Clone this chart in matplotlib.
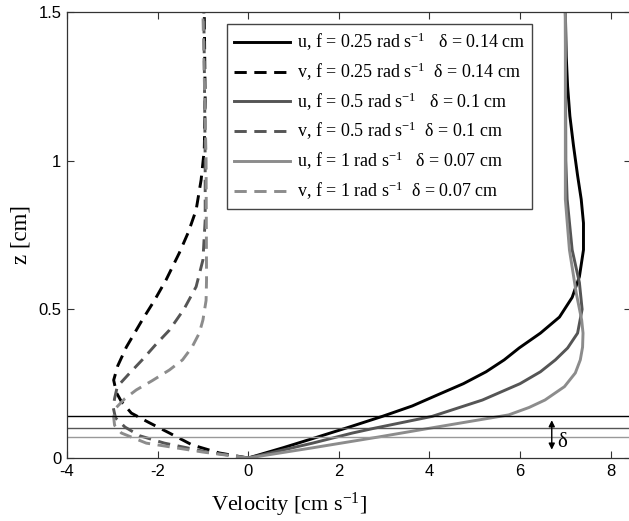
import matplotlib
matplotlib.use("Agg")
import matplotlib.pyplot as plt

plt.rcParams['mathtext.fontset'] = 'custom'
plt.rcParams['mathtext.rm'] = 'Liberation Serif'
plt.rcParams['mathtext.it'] = 'Liberation Serif:italic'

# ---- data ----
z_u1 = [0, 0.035, 0.07, 0.105, 0.14, 0.175, 0.215, 0.25, 0.29, 0.33, 0.37, 0.42, 0.474,
        0.54, 0.61, 0.70, 0.79, 0.87, 0.95, 1.05, 1.15, 1.25, 1.35, 1.5]
u1 = [0, 0.78, 1.52, 2.25, 2.96, 3.62, 4.22, 4.75, 5.25, 5.65, 5.98, 6.45, 6.87,
      7.15, 7.31, 7.40, 7.40, 7.35, 7.27, 7.18, 7.10, 7.05, 7.02, 7.0]

z_v1 = [0, 0.017, 0.044, 0.084, 0.12, 0.151, 0.19, 0.22, 0.262, 0.31, 0.373, 0.464, 0.53,
        0.60, 0.69, 0.76, 0.834, 0.935, 1.036, 1.2, 1.5]
v1 = [0, -0.64, -1.24, -1.74, -2.2, -2.58, -2.8, -2.91, -2.97, -2.88, -2.69, -2.34, -2.07,
      -1.81, -1.52, -1.32, -1.15, -1.04, -0.97, -0.95, -0.97]

z_u2 = [0, 0.05, 0.084, 0.1, 0.14, 0.195, 0.25, 0.29, 0.33, 0.37, 0.42, 0.50, 0.59, 0.70,
        0.87, 1.0, 1.5]
u2 = [0, 1.42, 2.3, 2.78, 4.06, 5.17, 6.0, 6.45, 6.78, 7.05, 7.27, 7.37, 7.31, 7.15,
      7.04, 7.01, 7.0]

z_v2 = [0, 0.02, 0.05, 0.075, 0.104, 0.135, 0.17, 0.2, 0.24, 0.28, 0.33, 0.38, 0.43, 0.5,
        0.576, 0.666, 0.8, 1.0, 1.5]
v2 = [0, -0.9, -1.85, -2.4, -2.72, -2.93, -2.98, -2.95, -2.89, -2.65, -2.34, -2.05, -1.74,
      -1.42, -1.15, -1.0, -0.95, -0.95, -0.98]

z_u3 = [0, 0.035, 0.07, 0.1, 0.145, 0.17, 0.195, 0.24, 0.286, 0.33, 0.373, 0.42, 0.464,
        0.555, 0.70, 0.87, 1.5]
u3 = [0, 1.45, 2.85, 4.0, 5.75, 6.2, 6.55, 6.98, 7.22, 7.33, 7.38, 7.39, 7.36,
      7.24, 7.09, 7.0, 7.0]

z_v3 = [0, 0.02, 0.05, 0.084, 0.11, 0.138, 0.17, 0.2, 0.229, 0.26, 0.296, 0.33, 0.373,
        0.42, 0.464, 0.53, 0.6, 1.0, 1.5]
v3 = [0, -1.0, -2.25, -2.8, -2.95, -2.97, -2.91, -2.72, -2.47, -2.12, -1.74, -1.45, -1.24,
      -1.08, -1.0, -0.93, -0.92, -0.93, -1.0]

deltas = [0.14, 0.1, 0.07]
labels = ["u, f = 0.25 rad s$^{-1}$   δ = 0.14 cm",
          "v, f = 0.25 rad s$^{-1}$  δ = 0.14 cm",
          "u, f = 0.5 rad s$^{-1}$   δ = 0.1 cm",
          "v, f = 0.5 rad s$^{-1}$  δ = 0.1 cm",
          "u, f = 1 rad s$^{-1}$   δ = 0.07 cm",
          "v, f = 1 rad s$^{-1}$  δ = 0.07 cm"]

colors = ['#000000', '#555555', '#8c8c8c']

fig = plt.figure(figsize=(6.29, 5.21), dpi=100)
W, H = 629, 521
ax = fig.add_axes([67 / W, (H - 458) / H, (631.5 - 67) / W, (458 - 12) / H])

lw = 2.1
dash = (4.2, 2.6)
series = [(u1, z_u1, v1, z_v1), (u2, z_u2, v2, z_v2), (u3, z_u3, v3, z_v3)]
handles = []
for i, (u, zu, v, zv) in enumerate(series):
    hu, = ax.plot(u, zu, color=colors[i], lw=lw, label=labels[2 * i])
    hv, = ax.plot(v, zv, color=colors[i], lw=lw, dashes=dash, label=labels[2 * i + 1])
    handles += [hu, hv]

hcols = ['#000000', '#555555', '#999999']
for d, c in zip(deltas, hcols):
    ax.axhline(d, color=c, lw=1.0)

ax.annotate('', xy=(6.7, 0.028), xytext=(6.7, 0.127),
            arrowprops=dict(arrowstyle='<|-|>', color='black', lw=1.0,
                            mutation_scale=9, shrinkA=0, shrinkB=0))
ax.text(6.83, 0.052, 'δ', fontsize=15, va='center', ha='left', family='Liberation Serif')

ax.set_xlim(-4, 8.46)
ax.set_ylim(0, 1.5)
ax.set_xticks([-4, -2, 0, 2, 4, 6, 8])
ax.set_yticks([0, 0.5, 1, 1.5])
ax.set_xticklabels(['-4', '-2', '0', '2', '4', '6', '8'])
ax.set_yticklabels(['0', '0.5', '1', '1.5'])
ax.tick_params(direction='in', top=True, right=True, length=5, width=0.8,
               labelsize=12, colors='#333333', labelcolor='black', pad=4)
for lab in ax.get_xticklabels() + ax.get_yticklabels():
    lab.set_family('Liberation Sans')
for s in ax.spines.values():
    s.set_color('#333333')
    s.set_linewidth(0.9)

ax.set_xlabel("Velocity [cm s$^{-1}$]", fontsize=16, family='Liberation Serif',
              va='center')
ax.xaxis.set_label_coords((289 - 67) / (631.5 - 67), -(505 - 458) / 446)
ax.set_ylabel("z [cm]", fontsize=16.5, family='Liberation Serif', va='center')
ax.yaxis.set_label_coords(-(67 - 21) / (631.5 - 67), 0.5)

leg = ax.legend(handles=handles, loc='upper left',
                bbox_to_anchor=((227 - 67) / (631.5 - 67), (458 - 24) / 446),
                borderaxespad=0, fancybox=False, framealpha=1,
                edgecolor='#444444', handlelength=3.1, handletextpad=0.4,
                labelspacing=0.42, borderpad=0.38,
                prop={'family': 'Liberation Serif', 'size': 13})
leg.get_frame().set_linewidth(1.0)

fig.savefig('out.png', dpi=100)
